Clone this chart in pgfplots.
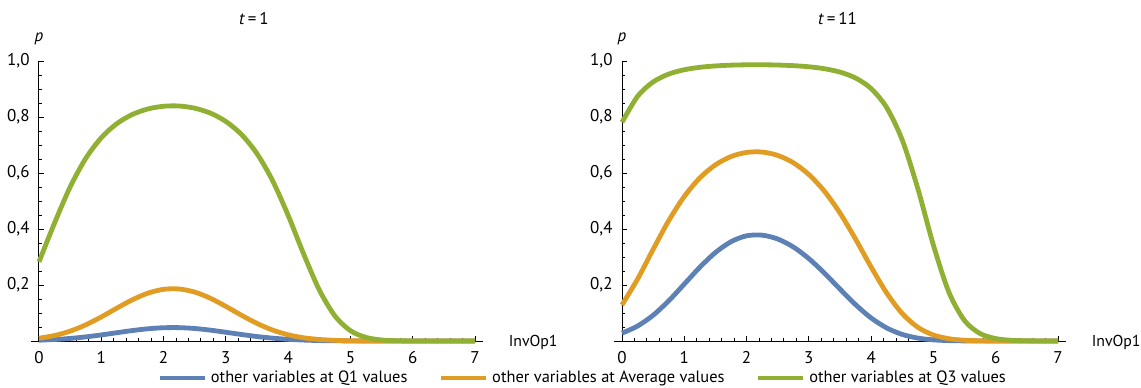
\documentclass[border=0pt]{standalone}
\usepackage{fontspec}
\setmainfont{PT Sans}
\usepackage{pgfplots}
\usepackage{pgfplotstable}
\pgfplotsset{compat=1.18}
\definecolor{mblue}{HTML}{5E81B5}
\definecolor{morange}{HTML}{E19C24}
\definecolor{mgreen}{HTML}{8FB032}
\pgfplotstableread{
x     Lq1     Lavg    Lq3     Rq1     Ravg    Rq3
0     0.0029  0.0100  0.2827  0.0281  0.1289  0.7811
0.25  0.0054  0.0196  0.4216  0.0534  0.2211  0.8738
0.5   0.0092  0.0352  0.5499  0.0920  0.3274  0.9253
0.75  0.0147  0.0576  0.6520  0.1435  0.4298  0.9533
1     0.0217  0.0860  0.7259  0.2033  0.5162  0.9688
1.25  0.0296  0.1174  0.7764  0.2635  0.5825  0.9775
1.5   0.0374  0.1473  0.8091  0.3160  0.6292  0.9824
1.75  0.0437  0.1710  0.8289  0.3546  0.6588  0.9852
2     0.0474  0.1846  0.8384  0.3757  0.6735  0.9864
2.25  0.0477  0.1858  0.8393  0.3780  0.6749  0.9865
2.5   0.0447  0.1747  0.8315  0.3643  0.6629  0.9856
2.75  0.0388  0.1528  0.8140  0.3359  0.6367  0.9834
3     0.0312  0.1237  0.7841  0.2942  0.5946  0.9794
3.25  0.0233  0.0921  0.7377  0.2424  0.5348  0.9724
3.5   0.0160  0.0628  0.6690  0.1853  0.4569  0.9604
3.75  0.0102  0.0391  0.5727  0.1298  0.3637  0.9393
4     0.0060  0.0222  0.4488  0.0822  0.2641  0.9014
4.25  0.0033  0.0115  0.3101  0.0466  0.1713  0.8334
4.5   0.0016  0.0055  0.1824  0.0234  0.0979  0.7173
4.75  0.0008  0.0024  0.0898  0.0104  0.0489  0.5440
5     0.0003  0.0009  0.0369  0.0040  0.0214  0.3419
5.25  0.0001  0.0003  0.0128  0.0014  0.0081  0.1733
5.5   0       0.0001  0.0037  0.0004  0.0027  0.0727
5.75  0       0       0.0009  0.0001  0.0008  0.0265
6     0       0       0.0002  0       0.0002  0.0087
6.25  0       0       0       0       0       0.0026
6.5   0       0       0       0       0       0.0007
6.75  0       0       0       0       0       0.0002
7     0       0       0       0       0       0
}\data
\pgfplotsset{
  panel/.style={
    scale only axis, width=226.1pt, height=140pt,
    xmin=-0.13, xmax=7.13, ymin=0, ymax=1,
    axis lines=middle, axis line style={-, line width=0.5pt, black},
    hide obscured x ticks=false, hide obscured y ticks=false,
    clip=false,
    xtick={0,1,...,7}, ytick={0.2,0.4,0.6,0.8,1.0},
    minor xtick={0,0.2,...,7}, minor ytick={0,0.05,...,1},
    tick align=inside,
    major tick length=2.6pt, minor tick length=1.4pt,
    every tick/.style={black, line width=0.45pt},
    /pgf/number format/assume math mode=true,
    /pgf/number format/use comma,
    yticklabel style={/pgf/number format/fixed, /pgf/number format/fixed zerofill, /pgf/number format/precision=1, font=\fontsize{8.5}{10}\selectfont, xshift=-1.2pt},
    xticklabel style={font=\fontsize{8.5}{10}\selectfont, yshift=-1.7pt},
    ylabel={\textit{p}}, xlabel={InvOp1},
    every axis y label/.style={at={(axis cs:0,1)}, anchor=base, yshift=9.75pt, font=\fontsize{8.5}{10}\selectfont},
    every axis x label/.style={at={(axis cs:7.13,0)}, anchor=base west, xshift=9.3pt, yshift=-2.85pt, font=\fontsize{7.9}{10}\selectfont},
    every axis plot/.append style={line width=2.4pt, smooth, tension=0.5},
  },
}
\begin{document}
\begin{tikzpicture}
\useasboundingbox (0,0) rectangle (570.5pt,193.5pt);
\begin{axis}[panel, at={(15.45pt,23pt)}, anchor=south west,
  legend columns=3,
  legend style={draw=none, fill=none, at={(axis description cs:1.222,-0.132)}, anchor=center,
    font=\fontsize{8.2}{10}\selectfont,
    /tikz/every even column/.append style={column sep=13.5pt}},
  legend image code/.code={\draw[#1] (0pt,0pt) -- (22.5pt,0pt);}]
\addplot[mblue] table[x=x,y=Lq1]{\data};
\addlegendentry{other variables at Q1 values}
\addplot[morange] table[x=x,y=Lavg]{\data};
\addlegendentry{other variables at Average values}
\addplot[mgreen] table[x=x,y=Lq3]{\data};
\addlegendentry{other variables at Q3 values}
\node[anchor=base, font=\fontsize{8.5}{10}\selectfont] at (axis cs:3.45,1.132) {\textit{t}\,=\,1};
\end{axis}
\begin{axis}[panel, at={(306.95pt,23pt)}, anchor=south west]
\addplot[mblue] table[x=x,y=Rq1]{\data};
\addplot[morange] table[x=x,y=Ravg]{\data};
\addplot[mgreen] table[x=x,y=Rq3]{\data};
\node[anchor=base, font=\fontsize{8.5}{10}\selectfont] at (axis cs:3.46,1.132) {\textit{t}\,=\,11};
\end{axis}
\end{tikzpicture}
\end{document}
